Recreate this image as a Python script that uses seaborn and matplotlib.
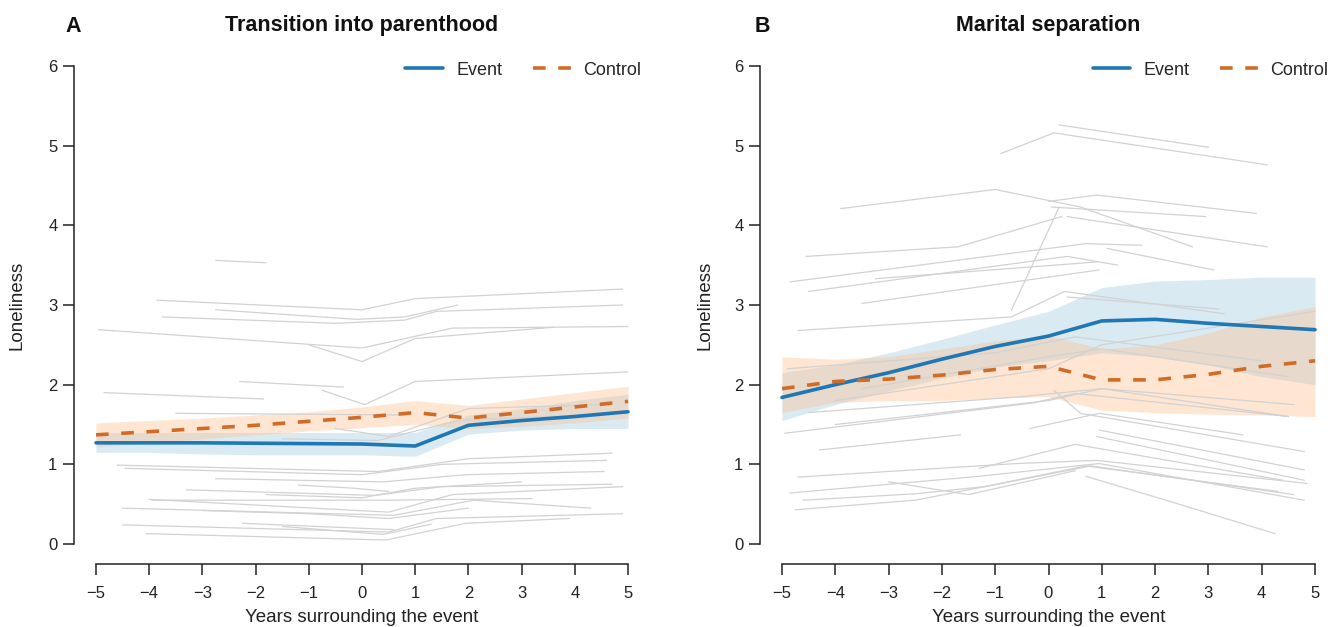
import matplotlib
matplotlib.use("Agg")
import matplotlib.pyplot as plt
import seaborn as sns
import pandas as pd
from matplotlib.lines import Line2D

years = [-5, -4, -3, -2, -1, 0, 1, 2, 3, 4, 5]

# Panel A: transition into parenthood
parent_event = [1.27, 1.27, 1.27, 1.265, 1.26, 1.255, 1.23, 1.49, 1.55, 1.60, 1.66]
parent_event_lo = [1.15, 1.15, 1.13, 1.12, 1.12, 1.12, 1.10, 1.38, 1.43, 1.45, 1.45]
parent_event_hi = [1.40, 1.40, 1.40, 1.40, 1.40, 1.40, 1.40, 1.62, 1.70, 1.80, 1.88]
parent_control = [1.37, 1.41, 1.45, 1.49, 1.54, 1.59, 1.65, 1.58, 1.65, 1.72, 1.79]
parent_control_lo = [1.22, 1.27, 1.32, 1.37, 1.42, 1.46, 1.50, 1.45, 1.48, 1.52, 1.58]
parent_control_hi = [1.52, 1.55, 1.58, 1.62, 1.66, 1.72, 1.80, 1.74, 1.82, 1.90, 1.98]

# Panel B: marital separation
separation_event = [1.84, 2.00, 2.15, 2.32, 2.48, 2.61, 2.80, 2.82, 2.77, 2.73, 2.69]
separation_event_lo = [1.55, 1.75, 1.92, 2.08, 2.22, 2.30, 2.40, 2.35, 2.25, 2.10, 2.00]
separation_event_hi = [2.15, 2.25, 2.40, 2.57, 2.75, 2.92, 3.22, 3.30, 3.32, 3.35, 3.35]
separation_control = [1.95, 2.04, 2.07, 2.12, 2.19, 2.23, 2.06, 2.06, 2.13, 2.23, 2.30]
separation_control_lo = [1.65, 1.78, 1.80, 1.80, 1.83, 1.85, 1.68, 1.65, 1.63, 1.62, 1.60]
separation_control_hi = [2.35, 2.32, 2.35, 2.45, 2.55, 2.62, 2.45, 2.50, 2.65, 2.85, 2.98]

# Individual trajectories (years, loneliness)
parent_people = [
    ([-2.75, -1.8], [3.56, 3.53]),
    ([-3.85, 0, 1, 4.9], [3.06, 2.94, 3.08, 3.20]),
    ([-2.75, -0.1, 0.8, 1.8], [2.94, 2.82, 2.85, 3.00]),
    ([-3.75, -0.5, 0.8, 1.4, 4.9], [2.85, 2.77, 2.81, 2.92, 3.00]),
    ([-4.95, 0, 1.7, 5.0], [2.69, 2.46, 2.71, 2.73]),
    ([-1.0, 0, 1.0, 3.6], [2.50, 2.29, 2.58, 2.72]),
    ([-2.3, -0.35], [2.04, 1.97]),
    ([-4.85, -1.85], [1.90, 1.82]),
    ([-0.75, 0.05, 1.0, 5.0], [1.93, 1.75, 2.04, 2.16]),
    ([-3.5, 0.8], [1.64, 1.62]),
    ([-0.5, 0.5, 2.0, 4.5], [1.45, 1.35, 1.70, 1.75]),
    ([-1.5, 0.3, 1.8, 4.2], [1.32, 1.30, 1.55, 1.62]),
    ([-4.6, 0.3, 2.0, 4.7], [0.99, 0.91, 1.07, 1.14]),
    ([-4.45, 0.0, 1.5, 4.6], [0.95, 0.87, 1.00, 1.05]),
    ([-2.75, 0.4, 1.95, 4.55], [0.82, 0.78, 0.87, 0.91]),
    ([-1.2, -0.15, 0.5], [0.74, 0.70, 0.66]),
    ([-3.3, 0.25, 1.5, 4.7], [0.68, 0.61, 0.72, 0.75]),
    ([-3.95, 0.45, 3.2], [0.55, 0.55, 0.57]),
    ([-4.0, 0.5, 1.7, 4.9], [0.56, 0.40, 0.62, 0.72]),
    ([-4.5, 0.6, 2.1, 4.3], [0.45, 0.36, 0.55, 0.45]),
    ([-4.5, 0.5, 1.4, 4.9], [0.24, 0.15, 0.32, 0.38]),
    ([-4.05, 0.45, 1.95, 3.9], [0.13, 0.05, 0.26, 0.32]),
    ([-2.25, 0.6], [0.26, 0.18]),
    ([-1.5, 0.4, 1.3], [0.22, 0.12, 0.25]),
    ([-3.0, -1.0, 0.5, 2.0], [0.42, 0.38, 0.32, 0.45]),
    ([-1.8, 0.0, 1.0, 3.0], [0.62, 0.58, 0.70, 0.78]),
]

separation_people = [
    ([-0.9, 0.1, 4.1], [4.90, 5.16, 4.76]),
    ([0.2, 2.3, 3.0], [5.26, 5.05, 4.98]),
    ([-3.9, -1.0, 0.6, 2.7], [4.21, 4.45, 4.23, 3.73]),
    ([0.0, 0.9, 3.9], [4.30, 4.38, 4.15]),
    ([0.05, 2.95], [4.23, 4.11]),
    ([0.35, 4.1], [4.11, 3.73]),
    ([-4.55, -1.7, 0.25], [3.61, 3.73, 4.11]),
    ([-4.85, 0.7, 1.75], [3.29, 3.77, 3.75]),
    ([1.1, 3.1], [3.71, 3.44]),
    ([-4.5, 0.35, 1.3], [3.17, 3.61, 3.50]),
    ([-3.25, 0.9], [3.33, 3.54]),
    ([-3.5, 0.95], [3.02, 3.44]),
    ([-0.7, 0.2], [2.93, 4.23]),
    ([-4.7, -0.7, 0.3, 3.3], [2.68, 2.85, 3.17, 2.89]),
    ([0.35, 3.2], [3.10, 2.95]),
    ([-4.9, -1.0, 0.5, 4.0], [2.20, 2.40, 2.60, 2.30]),
    ([-4.0, 0.0, 1.0, 5.0], [1.80, 2.20, 2.50, 2.92]),
    ([-3.5, 0.0, 1.0, 4.5], [1.95, 2.35, 2.45, 2.10]),
    ([-4.5, -0.5, 1.0, 4.6], [1.65, 1.85, 1.95, 1.75]),
    ([-4.0, 0.0, 1.0, 4.5], [1.50, 1.80, 1.95, 1.60]),
    ([-4.95, -0.3, 0.5, 4.5], [1.39, 1.77, 1.89, 1.60]),
    ([-4.3, -1.65], [1.18, 1.37]),
    ([-0.35, 0.95, 3.65], [1.45, 1.64, 1.37]),
    ([0.1, 0.6, 4.8], [1.93, 1.64, 1.16]),
    ([0.95, 4.8], [1.43, 0.93]),
    ([0.9, 4.8], [1.35, 0.80]),
    ([-1.3, 0.5, 4.4], [0.95, 1.25, 0.80]),
    ([-4.7, -0.6, 0.9, 4.85], [0.84, 1.01, 1.05, 0.76]),
    ([-4.85, -1.3, 0.95, 4.8], [0.64, 0.85, 1.01, 0.55]),
    ([-4.6, -2.5, -1.2, 0.7, 4.3], [0.55, 0.63, 0.72, 0.98, 0.66]),
    ([-4.75, -2.5, 0.8, 4.6], [0.43, 0.55, 0.98, 0.62]),
    ([0.7, 2.4, 4.25], [0.85, 0.51, 0.13]),
    ([-3.0, -1.5, 0.5], [0.78, 0.62, 0.92]),
]

panel_letters = ["A", "B"]
panel_titles = ["Transition into parenthood", "Marital separation"]
legend_labels = ["Event", "Control"]
x_label = "Years surrounding the event"
y_label = "Loneliness"
y_ticks = [0, 1, 2, 3, 4, 5, 6]

EVENT_COLOR = "#1f78b4"
CONTROL_COLOR = "#d06c28"
EVENT_FILL = "#9ecae1"
CONTROL_FILL = "#fdbf8a"
GREY = "#d2d2d2"
INK = "#222222"

sns.set_style("ticks")
plt.rcParams["font.family"] = ["Liberation Sans", "DejaVu Sans"]
plt.rcParams["axes.unicode_minus"] = True

fig = plt.figure(figsize=(13.3, 6.27), dpi=100)
fig.patch.set_facecolor("white")

axes_boxes = [
    [96 / 1330, 83 / 627, 532 / 1330, 478 / 627],
    [782 / 1330, 83 / 627, 533 / 1330, 478 / 627],
]

panels = [
    (parent_people, parent_event, parent_event_lo, parent_event_hi,
     parent_control, parent_control_lo, parent_control_hi),
    (separation_people, separation_event, separation_event_lo, separation_event_hi,
     separation_control, separation_control_lo, separation_control_hi),
]


def people_frame(paths):
    rows = []
    for pid, (xs, ys) in enumerate(paths):
        for x, y in zip(xs, ys):
            rows.append({"person": pid, "year": x, "loneliness": y})
    return pd.DataFrame(rows)


for i, (box, panel) in enumerate(zip(axes_boxes, panels)):
    people, ev, ev_lo, ev_hi, ct, ct_lo, ct_hi = panel
    ax = fig.add_axes(box)
    ax.set_facecolor("none")

    sns.lineplot(data=people_frame(people), x="year", y="loneliness",
                 units="person", estimator=None, color=GREY, lw=0.9,
                 ax=ax, legend=False, clip_on=False)

    ax.fill_between(years, ev_lo, ev_hi, color=EVENT_FILL, alpha=0.38, lw=0)
    ax.fill_between(years, ct_lo, ct_hi, color=CONTROL_FILL, alpha=0.38, lw=0)

    sns.lineplot(x=years, y=ev, color=EVENT_COLOR, lw=2.6, ax=ax,
                 clip_on=False)
    sns.lineplot(x=years, y=ct, color=CONTROL_COLOR, lw=2.6, ax=ax,
                 clip_on=False)
    ax.lines[-1].set_dashes((3.5, 3.5))

    ax.set_xlim(-5, 5)
    ax.set_ylim(0, 6)
    ax.set_xticks(years)
    ax.set_yticks(y_ticks)
    ax.set_xticklabels([f"\u2212{abs(v)}" if v < 0 else str(v) for v in years])
    ax.set_yticklabels([str(v) for v in y_ticks])

    for side in ("top", "right"):
        ax.spines[side].set_visible(False)
    ax.spines["left"].set_position(("outward", 15.8))
    ax.spines["bottom"].set_position(("outward", 14.4))
    ax.spines["left"].set_bounds(0, 6)
    ax.spines["bottom"].set_bounds(-5, 5)
    for side in ("left", "bottom"):
        ax.spines[side].set_linewidth(1.1)
        ax.spines[side].set_color(INK)
    ax.tick_params(axis="both", length=8, width=1.1, color=INK,
                   labelsize=12, labelcolor=INK)
    ax.tick_params(axis="x", pad=8)
    ax.tick_params(axis="y", pad=4)

    ax.set_xlabel(x_label, fontsize=13.5, color=INK)
    ax.set_ylabel(y_label, fontsize=13.5, color=INK)
    ax.xaxis.set_label_coords(0.5, -0.135)
    ax.yaxis.set_label_coords(-0.133 if i == 0 else -0.128, 0.5)

    handles = [Line2D([0], [0], color=EVENT_COLOR, lw=2.6),
               Line2D([0], [0], color=CONTROL_COLOR, lw=2.6, dashes=(3.5, 3.5))]
    ax.legend(handles, legend_labels, loc="center right",
              bbox_to_anchor=(1.025, 0.9916), ncol=2, frameon=False,
              fontsize=13, handlelength=2.1, handletextpad=0.7,
              columnspacing=1.7, borderpad=0, borderaxespad=0)

    x0 = box[0]
    w = box[2]
    fig.text(x0 + w / 2, 601 / 627, panel_titles[i], ha="center", va="center",
             fontsize=15.5, fontweight="bold", color="#111111")
    letter_x = 73 / 1330 if i == 0 else 762 / 1330
    fig.text(letter_x, 601 / 627, panel_letters[i], ha="center", va="center",
             fontsize=15.5, fontweight="bold", color="#111111")

fig.savefig("out.png", dpi=100)
